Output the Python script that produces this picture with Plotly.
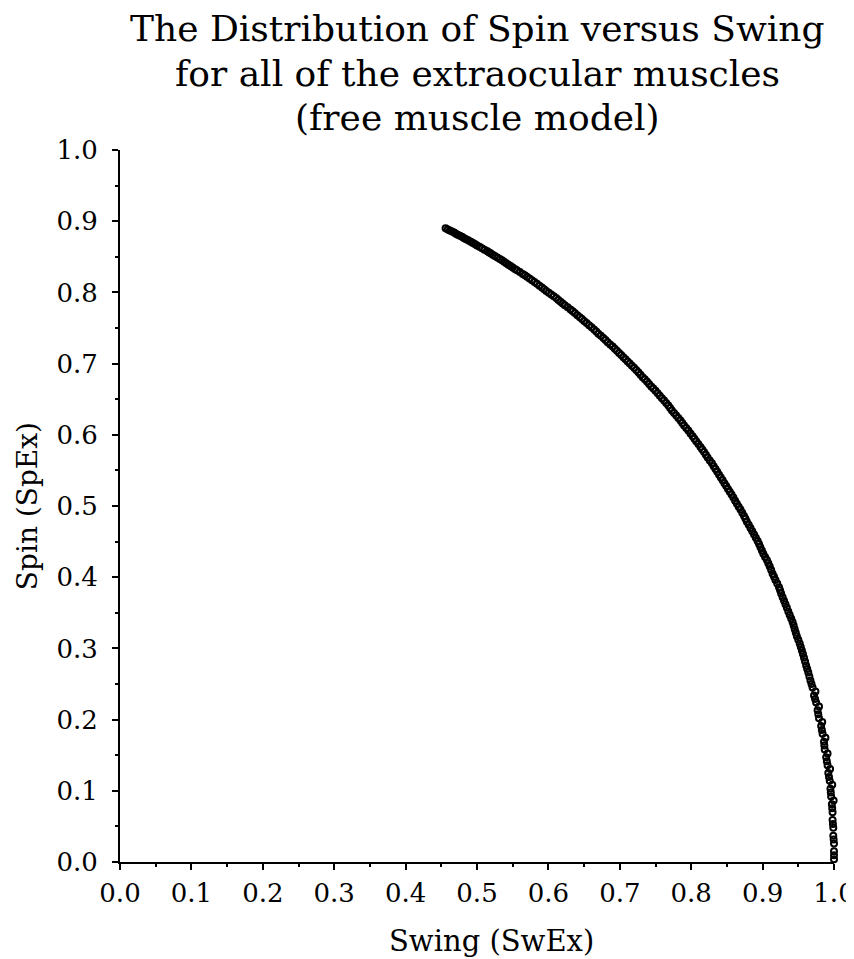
import plotly.graph_objects as go

title_lines = ["The Distribution of Spin versus Swing",
               "for all of the extraocular muscles",
               "(free muscle model)"]
x_title = "Swing (SwEx)"
y_title = "Spin (SpEx)"
tick_vals = [0.0, 0.1, 0.2, 0.3, 0.4, 0.5, 0.6, 0.7, 0.8, 0.9, 1.0]
tick_text = ["0.0", "0.1", "0.2", "0.3", "0.4", "0.5", "0.6", "0.7", "0.8", "0.9", "1.0"]

spin = [0.890, 0.887, 0.884, 0.881, 0.878, 0.875, 0.872, 0.869, 0.866, 0.862,
        0.858, 0.855, 0.851, 0.847, 0.843, 0.839, 0.835, 0.831, 0.826, 0.822,
        0.817, 0.812, 0.807, 0.802, 0.797, 0.792, 0.787, 0.782, 0.776, 0.771,
        0.765, 0.760, 0.754, 0.748, 0.742, 0.736, 0.730, 0.724, 0.718, 0.712,
        0.706, 0.700, 0.694, 0.688, 0.681, 0.675, 0.668, 0.662, 0.655, 0.648,
        0.641, 0.634, 0.627, 0.620, 0.613, 0.606, 0.598, 0.591, 0.583, 0.576,
        0.568, 0.560, 0.552, 0.544, 0.536, 0.528, 0.520, 0.512, 0.503, 0.495,
        0.486, 0.478, 0.469, 0.460, 0.451, 0.442, 0.433, 0.424, 0.415, 0.405,
        0.396, 0.386, 0.377, 0.367, 0.357, 0.347, 0.337, 0.327, 0.317, 0.307,
        0.297, 0.287, 0.276, 0.266, 0.255, 0.245, 0.234, 0.224, 0.213, 0.202,
        0.191, 0.180, 0.169, 0.158, 0.147, 0.136, 0.125, 0.114, 0.103, 0.092,
        0.081, 0.070, 0.059, 0.048, 0.037, 0.026, 0.015, 0.004]

swing = [0.456, 0.462, 0.468, 0.473, 0.479, 0.484, 0.490, 0.495, 0.500, 0.507,
         0.514, 0.519, 0.525, 0.532, 0.538, 0.544, 0.550, 0.556, 0.564, 0.570,
         0.577, 0.584, 0.591, 0.597, 0.604, 0.611, 0.617, 0.623, 0.631, 0.637,
         0.644, 0.650, 0.657, 0.664, 0.670, 0.677, 0.683, 0.690, 0.696, 0.702,
         0.708, 0.714, 0.720, 0.726, 0.732, 0.738, 0.744, 0.750, 0.756, 0.762,
         0.768, 0.773, 0.779, 0.785, 0.790, 0.796, 0.802, 0.807, 0.813, 0.818,
         0.823, 0.829, 0.834, 0.839, 0.844, 0.849, 0.854, 0.859, 0.864, 0.869,
         0.874, 0.878, 0.883, 0.888, 0.893, 0.897, 0.901, 0.906, 0.910, 0.914,
         0.918, 0.923, 0.926, 0.930, 0.934, 0.938, 0.942, 0.945, 0.948, 0.952,
         0.955, 0.958, 0.961, 0.964, 0.967, 0.970, 0.972, 0.975, 0.977, 0.979,
         0.982, 0.984, 0.986, 0.987, 0.989, 0.991, 0.992, 0.994, 0.995, 0.996,
         0.997, 0.998, 0.998, 0.999, 0.999, 1.000, 1.000, 1.000]

spin_b = [0.8885, 0.8855, 0.8825, 0.8795, 0.8765, 0.8735, 0.8705, 0.8675, 0.864, 0.860,
          0.8565, 0.853, 0.849, 0.845, 0.841, 0.837, 0.833, 0.8285, 0.824, 0.8195,
          0.8145, 0.8095, 0.8045, 0.7995, 0.7945, 0.7895, 0.7845, 0.779, 0.7735, 0.768,
          0.7625, 0.757, 0.751, 0.745, 0.739, 0.733, 0.727, 0.721, 0.715, 0.709,
          0.703, 0.697, 0.691, 0.6845, 0.678, 0.6715, 0.665, 0.6585, 0.6515, 0.6445,
          0.6375, 0.6305, 0.6235, 0.6165, 0.6095, 0.602, 0.5945, 0.587, 0.5795, 0.572,
          0.564, 0.556, 0.548, 0.540, 0.532, 0.524, 0.516, 0.5075, 0.499, 0.4905,
          0.482, 0.4735, 0.4645, 0.4555, 0.4465, 0.4375, 0.4285, 0.4195, 0.410, 0.4005,
          0.391, 0.3815, 0.372, 0.362, 0.352, 0.342, 0.332, 0.322, 0.312, 0.302,
          0.292, 0.2815, 0.271, 0.2605, 0.250, 0.2395, 0.229, 0.2185, 0.2075, 0.1965,
          0.1855, 0.1745, 0.1635, 0.1525, 0.1415, 0.1305, 0.1195, 0.1085, 0.0975, 0.0865,
          0.0755, 0.0645, 0.0535, 0.0425, 0.0315, 0.0205, 0.0095]

swing_b = [0.459, 0.465, 0.4705, 0.476, 0.4815, 0.487, 0.4925, 0.4975, 0.5035, 0.5105,
           0.5165, 0.522, 0.5285, 0.535, 0.541, 0.547, 0.553, 0.560, 0.567, 0.5735,
           0.5805, 0.5875, 0.594, 0.6005, 0.6075, 0.614, 0.620, 0.627, 0.634, 0.6405,
           0.647, 0.6535, 0.6605, 0.667, 0.6735, 0.680, 0.6865, 0.693, 0.699, 0.705,
           0.711, 0.717, 0.723, 0.729, 0.735, 0.741, 0.747, 0.753, 0.759, 0.765,
           0.7705, 0.776, 0.782, 0.7875, 0.793, 0.799, 0.8045, 0.810, 0.8155, 0.8205,
           0.826, 0.8315, 0.8365, 0.8415, 0.8465, 0.8515, 0.8565, 0.8615, 0.8665, 0.8715,
           0.876, 0.8805, 0.8855, 0.8905, 0.895, 0.899, 0.9035, 0.908, 0.912, 0.916,
           0.9205, 0.9245, 0.928, 0.932, 0.936, 0.940, 0.9435, 0.9465, 0.950, 0.9535,
           0.9565, 0.9595, 0.9625, 0.9655, 0.9685, 0.974, 0.9735, 0.979, 0.978, 0.9835,
           0.983, 0.988, 0.9865, 0.991, 0.990, 0.9945, 0.993, 0.9975, 0.9955, 0.9995,
           0.9975, 1.001, 0.9985, 1.002, 0.9995, 1.003, 1.000]

FONT = "DejaVu Serif"

fig = go.Figure()
for xs, ys in ((swing, spin), (swing_b, spin_b)):
    fig.add_trace(go.Scatter(
        x=xs, y=ys, mode="markers", cliponaxis=False,
        marker=dict(symbol="circle-open", size=6, color="black",
                    line=dict(color="black", width=2.0)),
        showlegend=False, hoverinfo="skip"))

axis_common = dict(
    range=[0, 1.0], tickmode="array", tickvals=tick_vals, ticktext=tick_text,
    showgrid=False, zeroline=False, showline=True, linecolor="black", linewidth=2,
    ticks="outside", ticklen=6, tickwidth=2, tickcolor="black",
    minor=dict(dtick=0.05, ticks="outside", ticklen=3, tickwidth=2, tickcolor="black"),
    tickfont=dict(family=FONT, size=26, color="black"),
    automargin=False, ticklabeloverflow="allow",
)

# page body has an 8px offset; figure sized so the plot area sits at 120..834 x 150..862
fig.update_layout(
    width=846, height=951,
    paper_bgcolor="white", plot_bgcolor="white",
    margin=dict(l=112, r=20, t=142, b=97),
    xaxis=dict(**axis_common, ticklabelstandoff=1),
    yaxis=dict(**axis_common, ticklabelstandoff=9),
)

title_y = [1.170, 1.1075, 1.046]
for line, yy in zip(title_lines, title_y):
    fig.add_annotation(text=line, x=0.5, y=yy, xref="paper", yref="paper",
                       xanchor="center", yanchor="middle", showarrow=False,
                       font=dict(family=FONT, size=36, color="black"))

fig.add_annotation(text=x_title, x=0.521, y=-0.111, xref="paper", yref="paper",
                   xanchor="center", yanchor="middle", showarrow=False,
                   font=dict(family=FONT, size=29, color="black"))
fig.add_annotation(text=y_title, x=-0.130, y=0.5, xref="paper", yref="paper",
                   xanchor="center", yanchor="middle", showarrow=False, textangle=-90,
                   font=dict(family=FONT, size=28, color="black"))

fig.write_html("out.html")
